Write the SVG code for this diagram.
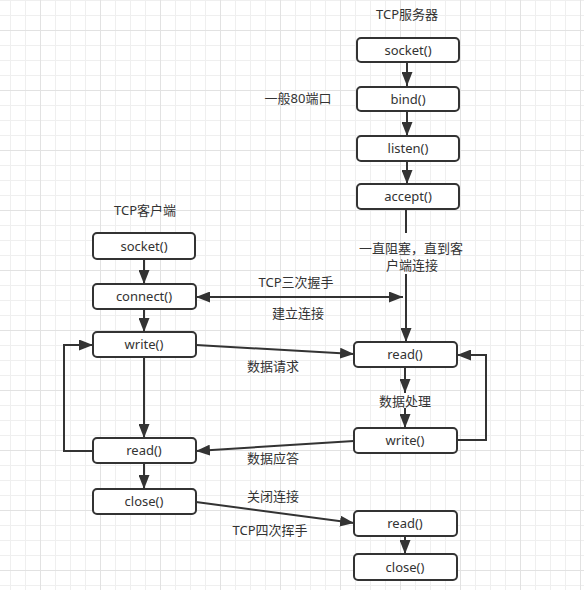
<svg xmlns="http://www.w3.org/2000/svg" width="584" height="590" viewBox="0 0 584 590">
<style>
.box{fill:#fff;stroke:#333;stroke-width:2}
.t{font-family:"Noto Sans","Noto Sans CJK SC",sans-serif;font-size:13px;fill:#333;text-anchor:middle}
.e{fill:none;stroke:#333;stroke-width:2}
</style>
<defs>
<pattern id="gm" width="15" height="15" patternUnits="userSpaceOnUse" x="10" y="0"><path d="M0 0.5H15M0.5 0V15" stroke="#efefef" stroke-width="1" fill="none"/></pattern>
<pattern id="gM" width="60" height="60" patternUnits="userSpaceOnUse" x="40" y="30"><path d="M0 0.5H60M0.5 0V60" stroke="#e2e2e2" stroke-width="1" fill="none"/></pattern>
<marker id="a" markerUnits="userSpaceOnUse" markerWidth="15" markerHeight="11" refX="14" refY="5.5" orient="auto"><path d="M0 0L14 5.5L0 11z" fill="#333"/></marker>
<marker id="as" markerUnits="userSpaceOnUse" markerWidth="15" markerHeight="11" refX="14" refY="5.5" orient="auto-start-reverse"><path d="M0 0L14 5.5L0 11z" fill="#333"/></marker>
</defs>
<rect width="584" height="590" fill="#fff"/>
<rect width="584" height="590" fill="url(#gm)"/>
<rect width="584" height="590" fill="url(#gM)"/>

<g id="connectors">
<path class="e" d="M407 62V86" marker-end="url(#a)"/>
<path class="e" d="M407 111V136" marker-end="url(#a)"/>
<path class="e" d="M407 161V184" marker-end="url(#a)"/>
<path class="e" d="M406 209V233"/>
<path class="e" d="M406 274V342" marker-end="url(#a)"/>
<path class="e" d="M144 259V284" marker-end="url(#a)"/>
<path class="e" d="M144 309V332" marker-end="url(#a)"/>
<path class="e" d="M196 297H403" marker-start="url(#as)" marker-end="url(#a)"/>
<path class="e" d="M196 345L354 354" marker-end="url(#a)"/>
<path class="e" d="M405 367V393" marker-end="url(#a)"/>
<path class="e" d="M405 408V428" marker-end="url(#a)"/>
<path class="e" d="M457 440H486V355H457" marker-end="url(#a)"/>
<path class="e" d="M354 441L196 451" marker-end="url(#a)"/>
<path class="e" d="M144 357V438" marker-end="url(#a)"/>
<path class="e" d="M93 451H64V345H93" marker-end="url(#a)"/>
<path class="e" d="M144 463V489" marker-end="url(#a)"/>
<path class="e" d="M196 502L354 523" marker-end="url(#a)"/>
<path class="e" d="M405 536V554" marker-end="url(#a)"/>
</g>

<g id="labels">
<text class="t" x="407" y="19">TCP服务器</text>
<text class="t" x="298" y="103">一般80端口</text>
<text class="t" x="145" y="215">TCP客户端</text>
<text class="t" x="411" y="253">一直阻塞，直到客</text>
<text class="t" x="412" y="270">户端连接</text>
<text class="t" x="296" y="287">TCP三次握手</text>
<text class="t" x="298" y="318">建立连接</text>
<text class="t" x="273" y="371">数据请求</text>
<text class="t" x="405" y="406">数据处理</text>
<text class="t" x="273" y="463">数据应答</text>
<text class="t" x="273" y="501">关闭连接</text>
<text class="t" x="270" y="535">TCP四次挥手</text>
</g>

<g id="s_socket"><rect class="box" x="357" y="38" width="102" height="24" rx="4"/><text class="t" x="408" y="55">socket()</text></g>
<g id="s_bind"><rect class="box" x="357" y="87" width="102" height="24" rx="4"/><text class="t" x="408" y="104">bind()</text></g>
<g id="s_listen"><rect class="box" x="357" y="136" width="102" height="25" rx="4"/><text class="t" x="408" y="153">listen()</text></g>
<g id="s_accept"><rect class="box" x="357" y="184" width="102" height="25" rx="4"/><text class="t" x="408" y="201">accept()</text></g>
<g id="s_read"><rect class="box" x="354" y="342" width="103" height="25" rx="4"/><text class="t" x="405" y="359">read()</text></g>
<g id="s_write"><rect class="box" x="354" y="428" width="103" height="25" rx="4"/><text class="t" x="405" y="445">write()</text></g>
<g id="s_read2"><rect class="box" x="354" y="511" width="103" height="25" rx="4"/><text class="t" x="405" y="528">read()</text></g>
<g id="s_close"><rect class="box" x="354" y="554" width="103" height="26" rx="4"/><text class="t" x="405" y="572">close()</text></g>

<g id="c_socket"><rect class="box" x="93" y="233" width="102" height="26" rx="4"/><text class="t" x="144" y="251">socket()</text></g>
<g id="c_connect"><rect class="box" x="93" y="284" width="103" height="25" rx="4"/><text class="t" x="144" y="301">connect()</text></g>
<g id="c_write"><rect class="box" x="93" y="332" width="103" height="25" rx="4"/><text class="t" x="144" y="349">write()</text></g>
<g id="c_read"><rect class="box" x="93" y="438" width="103" height="25" rx="4"/><text class="t" x="144" y="455">read()</text></g>
<g id="c_close"><rect class="box" x="93" y="489" width="103" height="25" rx="4"/><text class="t" x="144" y="506">close()</text></g>
</svg>
